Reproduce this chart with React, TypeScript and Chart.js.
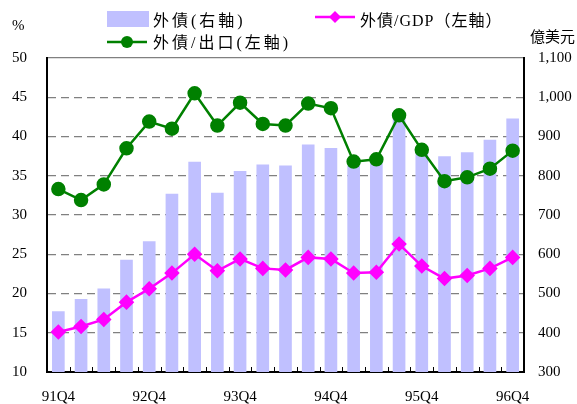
import React, { useEffect, useRef } from "react";
import { Chart, registerables } from "chart.js";

Chart.register(...registerables);

const categories = [
  "91Q4", "92Q1", "92Q2", "92Q3", "92Q4", "93Q1", "93Q2", "93Q3", "93Q4", "94Q1", "94Q2",
  "94Q3", "94Q4", "95Q1", "95Q2", "95Q3", "95Q4", "96Q1", "96Q2", "96Q3", "96Q4",
];
const externalDebt = [454, 485, 512, 585, 632, 753, 835, 756, 811, 828, 825, 879, 870, 825, 836, 945, 862, 849, 859, 891, 945];
const debtToExport = [33.3, 31.9, 33.9, 38.5, 41.9, 41.0, 45.5, 41.4, 44.3, 41.6, 41.4, 44.2, 43.6, 36.8, 37.1, 42.7, 38.3, 34.3, 34.8, 35.9, 38.2];
const debtToGDP = [15.1, 15.8, 16.7, 18.9, 20.6, 22.6, 25.0, 22.9, 24.4, 23.2, 23.0, 24.6, 24.4, 22.6, 22.7, 26.3, 23.5, 21.9, 22.3, 23.2, 24.6];

const seriesNames = ["外債(右軸)", "外債/GDP（左軸）", "外債/出口(左軸)"];
const leftUnit = "%";
const rightUnit = "億美元";

const BAR = "#c0c0ff";
const MAG = "#ff00ff";
const GRN = "#008000";
const FONT = "'Liberation Serif', 'Times New Roman', serif";
const CJK = "'Liberation Serif', 'Noto Sans CJK TC', serif";

const innerTicks = {
  id: "innerTicks",
  afterDatasetsDraw(chart: any) {
    const { ctx, chartArea } = chart;
    const n = categories.length;
    const w = (chartArea.right - chartArea.left) / n;
    ctx.save();
    ctx.strokeStyle = "#000";
    ctx.lineWidth = 1;
    for (let k = 1; k < n; k++) {
      const x = Math.round(chartArea.left + k * w) + 0.5;
      ctx.beginPath();
      ctx.moveTo(x, chartArea.bottom);
      ctx.lineTo(x, chartArea.bottom - 5);
      ctx.stroke();
    }
    ctx.restore();
  },
};

export default function App() {
  const ref = useRef<HTMLCanvasElement | null>(null);
  useEffect(() => {
    document.body.style.margin = "0";
    const chart = new Chart(ref.current as HTMLCanvasElement, {
      type: "bar",
      data: {
        labels: categories,
        datasets: [
          {
            type: "line",
            label: seriesNames[2],
            data: debtToExport,
            yAxisID: "yL",
            borderColor: GRN,
            backgroundColor: GRN,
            borderWidth: 2.5,
            pointStyle: "circle",
            pointRadius: 6,
            pointBackgroundColor: GRN,
            pointBorderColor: GRN,
            order: 1,
          } as any,
          {
            type: "line",
            label: seriesNames[1],
            data: debtToGDP,
            yAxisID: "yL",
            borderColor: MAG,
            backgroundColor: MAG,
            borderWidth: 2.5,
            pointStyle: "rectRot",
            pointRadius: 6,
            pointBackgroundColor: MAG,
            pointBorderColor: MAG,
            order: 2,
          } as any,
          {
            type: "bar",
            label: seriesNames[0],
            data: externalDebt,
            yAxisID: "yR",
            backgroundColor: BAR,
            barThickness: 12,
            order: 3,
          },
        ],
      },
      options: {
        responsive: false,
        animation: false,
        layout: { padding: { top: 58, left: 0, right: 0, bottom: 0 } },
        plugins: { legend: { display: false }, tooltip: { enabled: false } },
        scales: {
          x: {
            offset: true,
            grid: { display: false, drawTicks: false },
            border: { color: "#000", width: 2 },
            ticks: {
              autoSkip: false,
              maxRotation: 0,
              padding: 16,
              color: "#000",
              font: { family: FONT, size: 15 },
              callback: (_v: any, i: number) => (i % 4 === 0 ? categories[i] : ""),
            },
            afterFit: (s: any) => { s.height = 32; },
          },
          yL: {
            position: "left",
            min: 10,
            max: 50,
            ticks: { stepSize: 5, padding: 20, color: "#000", font: { family: FONT, size: 15 } },
            grid: {
              drawTicks: false,
              color: (c: any) => (c.tick && c.tick.value === 10 ? "rgba(0,0,0,0)" : "#808080"),
              lineWidth: 1.2,
            },
            border: {
              color: "#000",
              width: 2,
              dash: (c: any) => (c.tick && c.tick.value === 50 ? [] : [8, 5]),
            } as any,
            afterFit: (s: any) => { s.width = 47; },
          },
          yR: {
            position: "right",
            min: 300,
            max: 1100,
            ticks: {
              stepSize: 100,
              padding: 14,
              color: "#000",
              font: { family: FONT, size: 15 },
              callback: (v: any) => Number(v).toLocaleString("en-US"),
            },
            grid: { display: false, drawTicks: false },
            border: { color: "#000", width: 2 },
            afterFit: (s: any) => { s.width = 53; },
          },
        },
      } as any,
      plugins: [innerTicks],
    });
    return () => chart.destroy();
  }, []);

  const txt: React.CSSProperties = {
    position: "absolute",
    fontFamily: CJK,
    fontSize: 16,
    color: "#000",
    whiteSpace: "nowrap",
    lineHeight: "16px",
  };

  return (
    <div style={{ position: "relative", width: 577, height: 404 }}>
      <canvas ref={ref} width={577} height={404} style={{ display: "block" }} />
      <div style={{ ...txt, left: 12, top: 17, fontSize: 15, fontFamily: FONT }}>{leftUnit}</div>
      <div style={{ ...txt, left: 530, top: 29, fontSize: 15 }}>{rightUnit}</div>
      <div style={{ position: "absolute", left: 107, top: 11, width: 42, height: 16, background: BAR }} />
      <div style={{ ...txt, left: 153, top: 13, letterSpacing: 3 }}>{seriesNames[0]}</div>
      <svg style={{ position: "absolute", left: 315, top: 9 }} width={40} height={16}>
        <line x1={0} y1={8} x2={40} y2={8} stroke={MAG} strokeWidth={2.5} />
        <polygon points="20,2 26,8 20,14 14,8" fill={MAG} />
      </svg>
      <div style={{ ...txt, left: 360, top: 13, letterSpacing: 1 }}>{seriesNames[1]}</div>
      <svg style={{ position: "absolute", left: 107, top: 34 }} width={40} height={16}>
        <line x1={0} y1={8} x2={40} y2={8} stroke={GRN} strokeWidth={2.5} />
        <circle cx={20} cy={8} r={6} fill={GRN} />
      </svg>
      <div style={{ ...txt, left: 153, top: 35, letterSpacing: 3 }}>{seriesNames[2]}</div>
    </div>
  );
}
